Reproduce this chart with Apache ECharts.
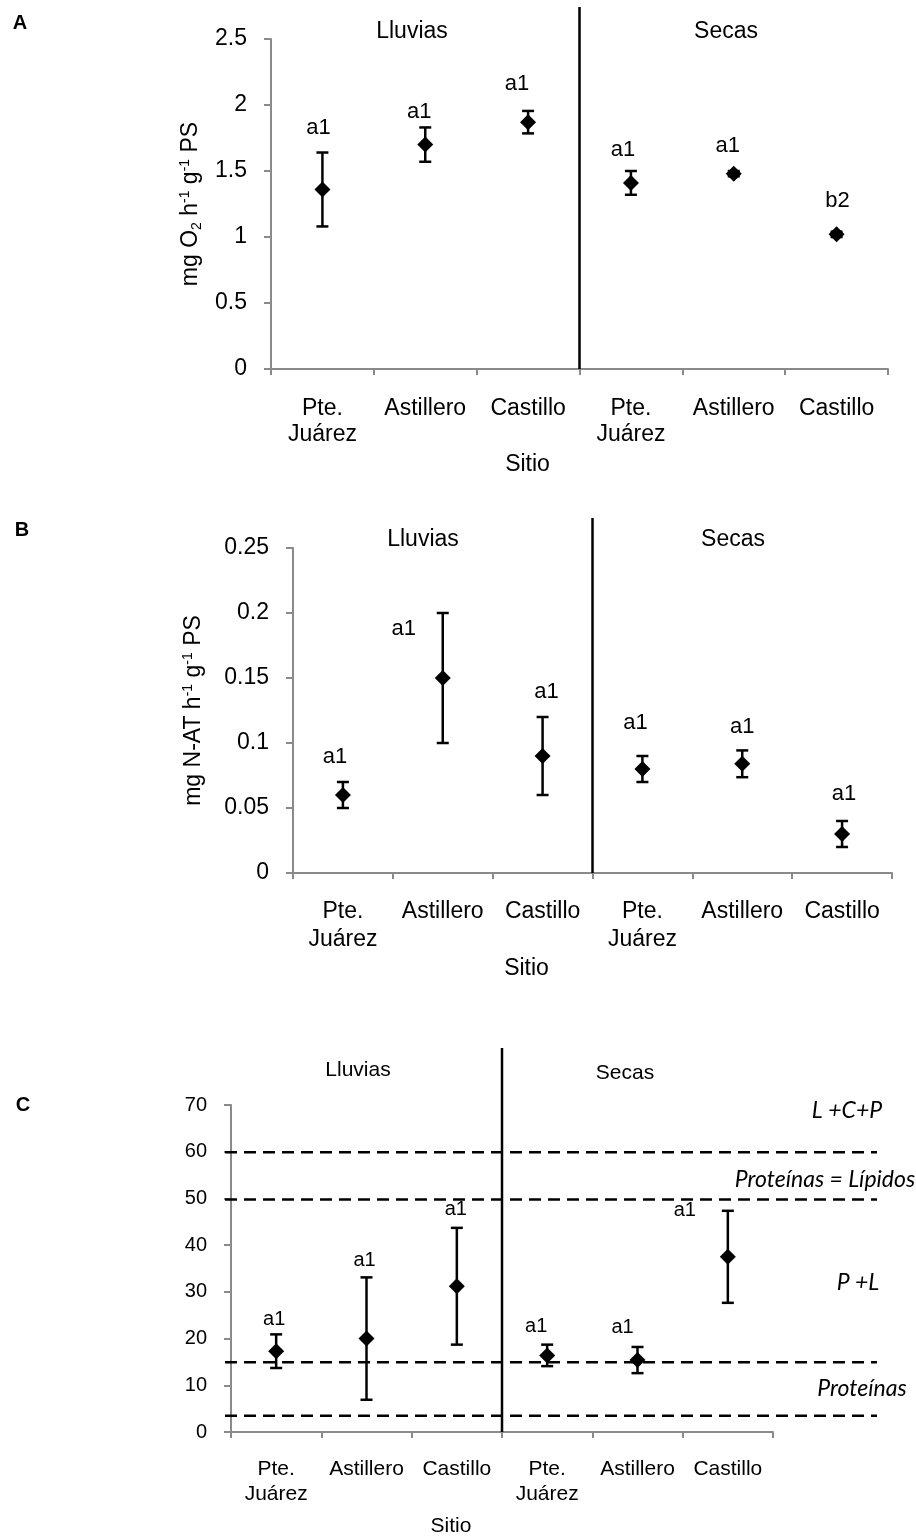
<!DOCTYPE html>
<html>
<head>
<meta charset="utf-8">
<script src="https://cdn.jsdelivr.net/npm/echarts@6/dist/echarts.min.js"></script>
<style>
  html, body { margin: 0; padding: 0; background: #fff; }
  #chart { width: 916px; height: 1540px; }
</style>
</head>
<body>
<div id="chart"></div>
<script>
// sitios: lluvias (3) y secas (3)
const sitios = ['Pte.\nJuárez', 'Astillero', 'Castillo', 'Pte.\nJuárez', 'Astillero', 'Castillo'];
const temporadas = ['Lluvias', 'Secas'];

// A - consumo de oxígeno (mg O2 h-1 g-1 PS)
const oxiMedia = [1.36, 1.70, 1.87, 1.41, 1.48, 1.02];
const oxiError = [0.28, 0.13, 0.085, 0.09, 0.02, 0.02];
const oxiLetras = ['a1', 'a1', 'a1', 'a1', 'a1', 'b2'];
const oxiEje = [0, 2.5, 0.5];

// B - excreción amoniacal (mg N-AT h-1 g-1 PS)
const amoMedia = [0.06, 0.15, 0.09, 0.08, 0.084, 0.03];
const amoError = [0.01, 0.05, 0.03, 0.01, 0.0103, 0.01];
const amoLetras = ['a1', 'a1', 'a1', 'a1', 'a1', 'a1'];
const amoEje = [0, 0.25, 0.05];

// C - relación O:N
const onMedia = [17.3, 20.0, 31.2, 16.4, 15.4, 37.5];
const onError = [3.6, 13.1, 12.5, 2.3, 2.8, 9.85];
const onLetras = ['a1', 'a1', 'a1', 'a1', 'a1', 'a1'];
const onEje = [0, 70, 10];
const onLimites = [60, 50, 15.6, 4.3];
const onZonas = ['L +C+P', 'Proteínas = Lípidos', 'P +L', 'Proteínas'];

const FUENTE = '"Liberation Sans", Arial, sans-serif';

// layout de cada panel (pixeles)
const paneles = [
  {
    letra: 'A', media: oxiMedia, error: oxiError, letras: oxiLetras, eje: oxiEje,
    grid: { left: 271, right: 28, top: 39, height: 330 },
    fs: 23, lh: 26, tickFs: 23, letraFs: 22, labelMargin: 27, sitioGap: 83, sitioPad: 104,
    nombreY: 'mg O{sub|2} h{sup|-1} g{sup|-1} PS', nombreGap: 53,
    desplaz: [[-4, -25], [-6, -16], [-11, -27], [-8, -21], [-6, -25], [1, -31]],
    titulos: [[412, 32], [726, 32]], letraPos: [20, 23], divisorTop: 7
  },
  {
    letra: 'B', media: amoMedia, error: amoError, letras: amoLetras, eje: amoEje,
    grid: { left: 293, right: 24, top: 548, height: 325 },
    fs: 23, lh: 28, tickFs: 23, letraFs: 22, labelMargin: 25, sitioGap: 80, sitioPad: 132,
    nombreY: 'mg N-AT h{sup|-1} g{sup|-1} PS', nombreGap: 86,
    desplaz: [[-8, -25], [-39, 16], [4, -25], [-7, -33], [0, -23], [2, -27]],
    titulos: [[423, 540], [733, 540]], letraPos: [22, 530], divisorTop: 518
  },
  {
    letra: 'C', media: onMedia, error: onError, letras: onLetras, eje: onEje,
    grid: { left: 231, right: 143, top: 1105, height: 331 },
    fs: 21, lh: 25, tickFs: 20, letraFs: 20, labelMargin: 25, sitioGap: 82, sitioPad: 102,
    nombreY: '', nombreGap: 50,
    desplaz: [[-2, -15], [-2, -17], [-1, -18], [-11, -18], [-15, -19], [-43, 0]],
    titulos: [[358, 1070], [625, 1073]], letraPos: [23, 1105], divisorTop: 1048
  }
];

const gris = '#8a8a8a';

function barrasError(p) {
  return function (params, api) {
    const i = params.dataIndex;
    const x = api.value(0), m = api.value(1), e = api.value(2);
    const arriba = api.coord([x, m + e]);
    const abajo = api.coord([x, m - e]);
    const w = 6;
    const s = { stroke: '#000', lineWidth: 2.5 };
    const d = p.desplaz[i];
    return {
      type: 'group',
      children: [
        { type: 'line', shape: { x1: arriba[0], y1: arriba[1], x2: abajo[0], y2: abajo[1] }, style: s },
        { type: 'line', shape: { x1: arriba[0] - w, y1: arriba[1], x2: arriba[0] + w, y2: arriba[1] }, style: s },
        { type: 'line', shape: { x1: abajo[0] - w, y1: abajo[1], x2: abajo[0] + w, y2: abajo[1] }, style: s },
        {
          type: 'text', x: arriba[0] + d[0], y: arriba[1] + d[1],
          style: { text: p.letras[i], fill: '#000', font: p.letraFs + 'px ' + FUENTE, align: 'center', verticalAlign: 'middle' }
        }
      ]
    };
  };
}

const grids = [], xAxes = [], yAxes = [], series = [];

paneles.forEach((p, k) => {
  grids.push(p.grid);
  xAxes.push({
    gridIndex: k, type: 'category', data: sitios,
    axisLine: { lineStyle: { color: gris, width: 2 } },
    axisTick: { show: true, length: 6, lineStyle: { color: gris, width: 2 } },
    axisLabel: { interval: 0, color: '#000', fontFamily: FUENTE, fontSize: p.fs, lineHeight: p.lh, margin: p.labelMargin },
    name: 'Sitio', nameLocation: 'middle', nameGap: p.sitioGap,
    nameTextStyle: { color: '#000', fontFamily: FUENTE, fontSize: p.fs, lineHeight: p.lh, padding: [0, p.sitioPad, 0, 0] }
  });
  yAxes.push({
    gridIndex: k, type: 'value', min: p.eje[0], max: p.eje[1], interval: p.eje[2],
    axisLine: { show: true, lineStyle: { color: gris, width: 2 } },
    axisTick: { show: true, length: 7, lineStyle: { color: gris, width: 2 } },
    splitLine: { show: false },
    axisLabel: { color: '#000', fontFamily: FUENTE, fontSize: p.tickFs, margin: 24 },
    name: p.nombreY, nameLocation: 'middle', nameGap: p.nombreGap,
    nameTextStyle: {
      color: '#000', fontFamily: FUENTE, fontSize: p.fs, lineHeight: 26,
      rich: {
        sup: { fontFamily: FUENTE, fontSize: 14, lineHeight: 14, verticalAlign: 'top', color: '#000' },
        sub: { fontFamily: FUENTE, fontSize: 14, lineHeight: 14, verticalAlign: 'bottom', color: '#000' }
      }
    }
  });
  const datos = p.media.map((m, i) => [i, m, p.error[i]]);
  series.push({
    type: 'custom', xAxisIndex: k, yAxisIndex: k, data: datos,
    encode: { x: 0, y: 1 }, renderItem: barrasError(p), z: 2, silent: true
  });
  series.push({
    type: 'scatter', xAxisIndex: k, yAxisIndex: k, data: datos.map(d => [d[0], d[1]]),
    symbol: 'diamond', symbolSize: 16, itemStyle: { color: '#000', opacity: 1 }, z: 3, silent: true
  });
});

// panel C: líneas de referencia (más anchas que el eje)
grids.push({ left: 225, right: 39, top: 1105, height: 331 });
xAxes.push({ gridIndex: 3, type: 'value', min: 0, max: 1, show: false });
yAxes.push({ gridIndex: 3, type: 'value', min: onEje[0], max: onEje[1], show: false });
series.push({
  type: 'custom', xAxisIndex: 3, yAxisIndex: 3, z: 1, silent: true,
  data: onLimites.map(v => [0, v]),
  renderItem: function (params, api) {
    const cs = params.coordSys;
    const y = api.coord([0, api.value(1)])[1];
    return {
      type: 'line', shape: { x1: cs.x, y1: y, x2: cs.x + cs.width, y2: y },
      style: { stroke: '#000', lineWidth: 2.5, lineDash: [12, 7] }
    };
  }
});

const chart = echarts.init(document.getElementById('chart'), null, { renderer: 'canvas' });
chart.setOption({
  animation: false,
  backgroundColor: '#fff',
  grid: grids, xAxis: xAxes, yAxis: yAxes, series: series
});

// textos y divisores
const graficos = [];
paneles.forEach((p, k) => {
  graficos.push({
    type: 'text', x: p.letraPos[0], y: p.letraPos[1],
    style: { text: p.letra, font: 'bold 20px ' + FUENTE, fill: '#000', align: 'center', verticalAlign: 'middle' }
  });
  temporadas.forEach((t, j) => {
    graficos.push({
      type: 'text', x: p.titulos[j][0], y: p.titulos[j][1],
      style: { text: t, font: p.fs + 'px ' + FUENTE, fill: '#000', align: 'center', verticalAlign: 'middle' }
    });
  });
  const x2 = chart.convertToPixel({ xAxisIndex: k }, 2);
  const x3 = chart.convertToPixel({ xAxisIndex: k }, 3);
  const y0 = chart.convertToPixel({ yAxisIndex: k }, p.eje[0]);
  const xd = (x2 + x3) / 2;
  graficos.push({
    type: 'line', z: 10,
    shape: { x1: xd, y1: p.divisorTop, x2: xd, y2: y0 },
    style: { stroke: '#000', lineWidth: 2.5 }
  });
});

const zonasPos = [[847, 1111], [825, 1180], [858, 1283], [862, 1389]];
onZonas.forEach((z, i) => {
  graficos.push({
    type: 'text', x: zonasPos[i][0], y: zonasPos[i][1],
    style: { text: z, font: 'italic 23px Lato, "Open Sans", sans-serif', fill: '#000', align: 'center', verticalAlign: 'middle' }
  });
});

chart.setOption({ graphic: graficos });
</script>
</body>
</html>
